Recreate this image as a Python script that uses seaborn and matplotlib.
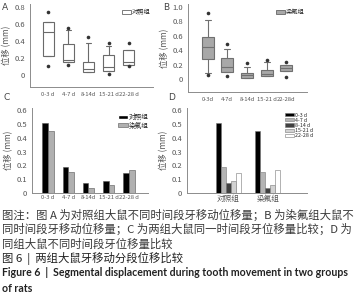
import matplotlib
matplotlib.use("Agg")
import matplotlib.pyplot as plt
import seaborn as sns
import pandas as pd
import numpy as np
from matplotlib.patches import Patch

sns.set_theme(style="white")
plt.rcParams['font.family'] = ['Noto Sans CJK SC', 'DejaVu Sans']

# ---------------- data ----------------
periods = ["0-3 d", "4-7 d", "8-14 d", "15-21 d", "22-28 d"]
ticks_a = ["0-3 d", "4-7 d", "8-14d", "15-21 d", "22-28 d"]
ticks_b = ["0-3d", "4-7d", "8-14d", "15-21 d", "22-28d"]
ticks_c = ["0-3 d", "4-7 d", "8-14d", "15-21 d", "22-28 d"]
groups = ["对照组", "染氟组"]

# Panel A: control group box statistics (mm)
a_low = [0.22, 0.15, 0.03, 0.05, 0.12]
a_q1 = [0.22, 0.15, 0.04, 0.05, 0.12]
a_med = [0.50, 0.18, 0.07, 0.09, 0.15]
a_q3 = [0.62, 0.36, 0.15, 0.23, 0.29]
a_high = [0.62, 0.53, 0.37, 0.34, 0.29]
a_dot_lo = [0.10, 0.12, np.nan, 0.01, 0.10]
a_dot_hi = [0.74, 0.55, 0.45, 0.38, 0.38]

# Panel B: fluoride group box statistics (mm)
b_low = [0.09, 0.10, 0.02, 0.04, 0.11]
b_q1 = [0.28, 0.10, 0.02, 0.04, 0.11]
b_med = [0.45, 0.17, 0.05, 0.07, 0.15]
b_q3 = [0.58, 0.29, 0.08, 0.13, 0.20]
b_high = [0.82, 0.41, 0.17, 0.23, 0.20]
b_dot_lo = [0.055, 0.04, np.nan, np.nan, 0.03]
b_dot_hi = [0.91, 0.48, 0.22, 0.26, 0.24]

# Panels C/D: mean displacement (mm)
ctrl_mean = [0.51, 0.19, 0.07, 0.09, 0.145]
fluo_mean = [0.445, 0.155, 0.035, 0.06, 0.165]

# ---------------- layout ----------------
W, H = 354, 300
fig = plt.figure(figsize=(W / 100, H / 100), dpi=100)

def ax_px(l, t, r, b):
    return fig.add_axes([l / W, 1 - b / H, (r - l) / W, (b - t) / H])

SPINE = "#8c8c8c"
TXT = "#555555"

def style(ax):
    for s in ["top", "right"]:
        ax.spines[s].set_visible(False)
    for s in ["left", "bottom"]:
        ax.spines[s].set_color(SPINE)
        ax.spines[s].set_linewidth(0.7)
    ax.tick_params(axis="both", labelsize=5.5, colors=SPINE, labelcolor=TXT,
                   length=2, width=0.6, pad=1.5)
    ax.set_xlabel("")

def box_df(low, q1, med, q3, high, labels):
    rows = []
    for i, lab in enumerate(labels):
        for v in (low[i], q1[i], med[i], q3[i], high[i]):
            rows.append({"period": lab, "val": v})
    return pd.DataFrame(rows)

def dot_df(lo, hi, labels):
    rows = []
    for i, lab in enumerate(labels):
        for v in (lo[i], hi[i]):
            if not np.isnan(v):
                rows.append({"period": lab, "val": v})
    return pd.DataFrame(rows)

XT = 4.2

# Panel A
axA = ax_px(30, 4, 153, 87)
dfA = box_df(a_low, a_q1, a_med, a_q3, a_high, periods)
sns.boxplot(data=dfA, x="period", y="val", order=periods, whis=(0, 100),
            width=0.55, color="white", linecolor="#6a6a6a", linewidth=0.8,
            fill=True, ax=axA)
for p in axA.patches:
    p.set_facecolor("white")
sns.stripplot(data=dot_df(a_dot_lo, a_dot_hi, periods), x="period", y="val",
              order=periods, jitter=False, color="#333333", size=2.6, ax=axA)
axA.set_ylim(-0.14, 0.83)
axA.set_xlim(-0.9, 5.2)
axA.set_yticks([0, 0.2, 0.4, 0.6, 0.8])
axA.set_yticklabels(["0", "0.2", "0.4", "0.6", "0.8"])
axA.set_xticks(range(5))
axA.set_xticklabels(ticks_a)
style(axA)
axA.tick_params(axis="x", labelsize=XT)
axA.set_ylabel("位移 (mm)", fontsize=6, color=TXT, labelpad=2)
axA.legend(handles=[Patch(facecolor="white", edgecolor="#666666", linewidth=0.6)],
           labels=["对照组"], loc="upper right", bbox_to_anchor=(1.0, 0.98),
           fontsize=4.5, frameon=False, handlelength=1.4, handleheight=0.6,
           handletextpad=0.2, borderaxespad=0)

# Panel B
axB = ax_px(188, 4, 307, 92)
dfB = box_df(b_low, b_q1, b_med, b_q3, b_high, periods)
sns.boxplot(data=dfB, x="period", y="val", order=periods, whis=(0, 100),
            width=0.6, color="#a8a8a8", linecolor="#707070", linewidth=0.8,
            ax=axB)
for p in axB.patches:
    p.set_facecolor("#a8a8a8")
sns.stripplot(data=dot_df(b_dot_lo, b_dot_hi, periods), x="period", y="val",
              order=periods, jitter=False, color="#333333", size=2.6, ax=axB)
axB.set_ylim(-0.18, 1.04)
axB.set_xlim(-1.0, 5.05)
axB.set_yticks([0, 0.2, 0.4, 0.6, 0.8, 1.0])
axB.set_yticklabels(["0", "0.2", "0.4", "0.6", "0.8", "1.0"])
axB.set_xticks(range(5))
axB.set_xticklabels(ticks_b)
style(axB)
axB.tick_params(axis="x", labelsize=XT)
axB.set_ylabel("位移 (mm)", fontsize=6, color=TXT, labelpad=2)
axB.legend(handles=[Patch(facecolor="#a8a8a8", edgecolor="#666666", linewidth=0.6)],
           labels=["染氟组"], loc="upper right", bbox_to_anchor=(1.0, 0.98),
           fontsize=4.5, frameon=False, handlelength=1.4, handleheight=0.6,
           handletextpad=0.2, borderaxespad=0)

# Panel C
axC = ax_px(32, 108, 148, 193)
dfC = pd.DataFrame({
    "period": periods * 2,
    "group": [groups[0]] * 5 + [groups[1]] * 5,
    "val": ctrl_mean + fluo_mean,
})
sns.barplot(data=dfC, x="period", y="val", hue="group", order=periods,
            hue_order=groups, palette=["#000000", "#b0b0b0"], width=0.57,
            edgecolor="#555555", linewidth=0.4, ax=axC, legend=False)
axC.set_ylim(0, 0.615)
axC.set_xlim(-0.8, 4.95)
axC.set_yticks([0, 0.1, 0.2, 0.3, 0.4, 0.5, 0.6])
axC.set_yticklabels(["0", "0.1", "0.2", "0.3", "0.4", "0.5", "0.6"])
axC.set_xticks(range(5))
axC.set_xticklabels(ticks_c)
style(axC)
axC.tick_params(axis="x", labelsize=XT, length=0)
axC.set_ylabel("位移 (mm)", fontsize=6, color=TXT, labelpad=2)
axC.legend(handles=[Patch(facecolor="#000000"), Patch(facecolor="#b0b0b0", edgecolor="#555555", linewidth=0.4)],
           labels=groups, loc="upper right", bbox_to_anchor=(1.03, 0.97),
           fontsize=4.8, frameon=False, handlelength=1.5, handleheight=0.5,
           handletextpad=0.2, borderaxespad=0, labelspacing=0.05)

# Panel D
axD = ax_px(187, 108, 307, 193)
dfD = pd.DataFrame({
    "group": [groups[0]] * 5 + [groups[1]] * 5,
    "period": periods * 2,
    "val": ctrl_mean + fluo_mean,
})
d_colors = ["#000000", "#b4b4b4", "#404040", "#d2d2d2", "#ffffff"]
sns.barplot(data=dfD, x="group", y="val", hue="period", order=groups,
            hue_order=periods, palette=d_colors, width=0.62,
            edgecolor="#777777", linewidth=0.4, ax=axD, legend=False)
axD.set_ylim(0, 0.615)
axD.set_xlim(-1.05, 2.0)
axD.set_yticks([0, 0.1, 0.2, 0.3, 0.4, 0.5, 0.6])
axD.set_yticklabels(["0", "0.1", "0.2", "0.3", "0.4", "0.5", "0.6"])
axD.set_xticks(range(2))
axD.set_xticklabels(groups)
style(axD)
axD.tick_params(axis="x", labelsize=5.5, length=0)
axD.set_ylabel("位移 (mm)", fontsize=6, color=TXT, labelpad=2)
axD.legend(handles=[Patch(facecolor=c, edgecolor="#777777", linewidth=0.4) for c in d_colors],
           labels=periods, loc="upper left", bbox_to_anchor=(0.8, 0.97),
           fontsize=3.8, frameon=False, handlelength=1.6, handleheight=0.5,
           handletextpad=0.2, borderaxespad=0, labelspacing=0.02)

# Panel letters
for lab, x, y in [("A", 2, 7), ("B", 163, 7), ("C", 4, 98), ("D", 168, 98)]:
    fig.text(x / W, 1 - y / H, lab, fontsize=6.5, color="#444444",
             va="center", ha="left", family=["DejaVu Sans"])

# Caption
cap = [
    ("图注：图 A 为对照组大鼠不同时间段牙移动位移量；B 为染氟组大鼠不", 215, "normal", "#3a3a3a"),
    ("同时间段牙移动位移量；C 为两组大鼠同一时间段牙位移量比较；D 为", 229, "normal", "#3a3a3a"),
    ("同组大鼠不同时间段牙位移量比较", 244, "normal", "#3a3a3a"),
    ("图 6  |  两组大鼠牙移动分段位移比较", 258, "normal", "#222222"),
]
for txt, y, wt, col in cap:
    fig.text(2 / W, 1 - y / H, txt, fontsize=8.2, color=col, va="center",
             ha="left", fontweight=wt)
fig.text(2 / W, 1 - 273 / H,
         "Figure 6  |  Segmental displacement during tooth movement in two groups",
         fontsize=7.6, fontweight="bold", color="#222222", va="center", ha="left",
         family=["Lato", "DejaVu Sans"])
fig.text(2 / W, 1 - 288 / H, "of rats", fontsize=7.6, fontweight="bold",
         color="#222222", va="center", ha="left", family=["Lato", "DejaVu Sans"])

fig.savefig("out.png", dpi=100)
